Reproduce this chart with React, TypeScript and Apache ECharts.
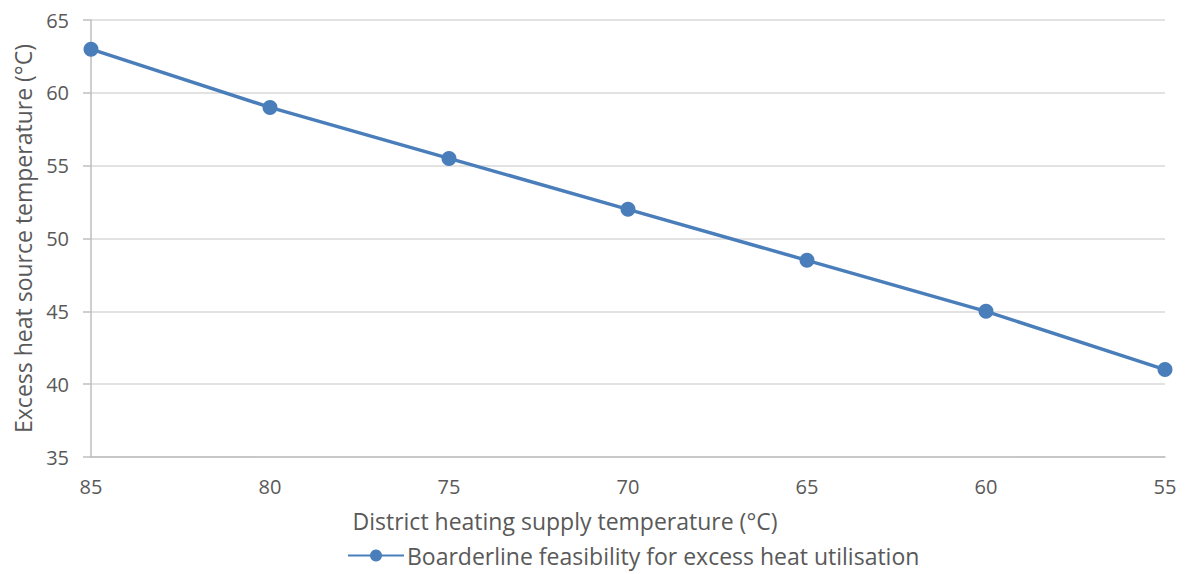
import React, { useEffect, useRef } from "react";
import * as echarts from "echarts";

const supplyTemps = [85, 80, 75, 70, 65, 60, 55];
const sourceTemps = [63, 59, 55.5, 52, 48.5, 45, 41];
const seriesName = "Boarderline feasibility for excess heat utilisation";

export default function App() {
  const ref = useRef<HTMLDivElement>(null);
  useEffect(() => {
    document.body.style.margin = "0";
    const chart = echarts.init(ref.current!, null, { renderer: "svg" });
    const font = "'Open Sans', 'Liberation Sans', sans-serif";
    chart.setOption({
      animation: false,
      backgroundColor: "#ffffff",
      grid: { left: 91, right: 20, top: 20, bottom: 117 },
      legend: {
        top: 544,
        left: 347,
        padding: 0,
        itemWidth: 56,
        itemHeight: 15,
        itemGap: 4,
        textStyle: { fontFamily: font, fontSize: 23, color: "#595959", padding: [0, 0, 0, -2] },
        data: [seriesName],
      },
      xAxis: {
        type: "value",
        inverse: true,
        min: 55,
        max: 85,
        interval: 5,
        name: "District heating supply temperature (°C)",
        nameLocation: "middle",
        nameGap: 52,
        nameTextStyle: {
          fontFamily: font,
          fontSize: 23,
          color: "#595959",
          padding: [0, 126, 0, 0],
        },
        axisLine: { show: true, lineStyle: { color: "#bfbfbf", width: 1.5 } },
        axisTick: { show: false },
        axisLabel: { fontFamily: font, fontSize: 20, color: "#595959", margin: 19 },
        splitLine: { show: false },
      },
      yAxis: {
        type: "value",
        min: 35,
        max: 65,
        interval: 5,
        name: "Excess heat source temperature (°C)",
        nameLocation: "middle",
        nameGap: 57,
        nameTextStyle: { fontFamily: font, fontSize: 23, color: "#595959" },
        axisLine: { show: true, lineStyle: { color: "#bfbfbf", width: 1.5 } },
        axisTick: { show: true, length: 8, lineStyle: { color: "#bfbfbf", width: 1.5 } },
        axisLabel: { fontFamily: font, fontSize: 20, color: "#595959", margin: 22 },
        splitLine: { show: true, lineStyle: { color: "#d9d9d9", width: 1.5 } },
      },
      series: [
        {
          name: seriesName,
          type: "line",
          data: supplyTemps.map((x, i) => [x, sourceTemps[i]]),
          symbol: "circle",
          symbolSize: 15,
          lineStyle: { color: "#4a7ebb", width: 3.5 },
          itemStyle: { color: "#4a7ebb" },
        },
      ],
    });
    return () => chart.dispose();
  }, []);
  return (
    <div
      ref={ref}
      style={{ width: 1185, height: 574, position: "absolute", left: 0, top: 0 }}
    />
  );
}
